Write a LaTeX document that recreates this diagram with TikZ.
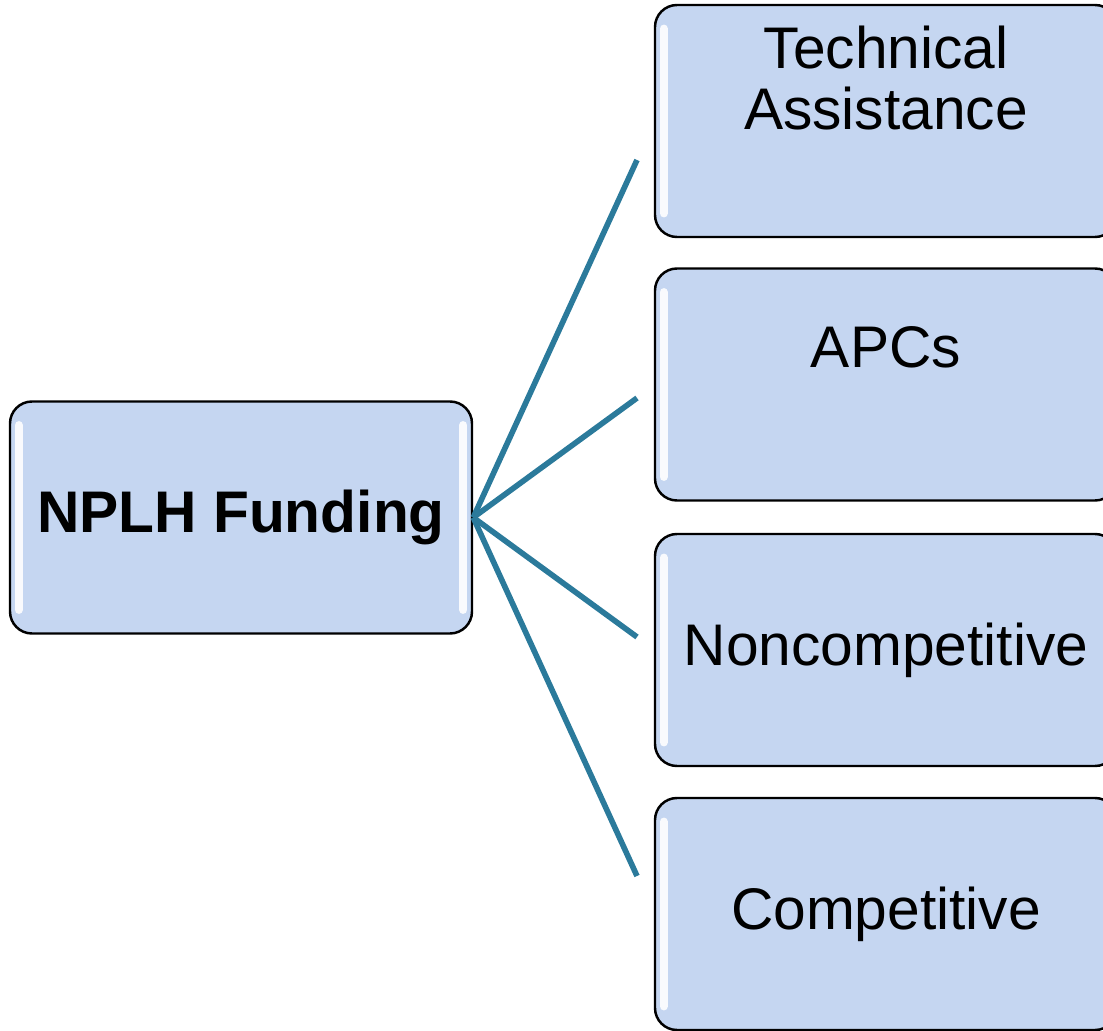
\documentclass[tikz,border=0pt]{standalone}
\usepackage{fontspec}
\setmainfont{Liberation Sans}
\usetikzlibrary{positioning}
\definecolor{boxfill}{HTML}{C5D6F1}
\definecolor{spoke}{HTML}{2B7A9B}
\begin{document}
\begin{tikzpicture}[
        fund/.style={draw=black, line width=0.7pt, fill=boxfill, rounded corners=0.22cm,
            minimum width=4.62cm, minimum height=2.32cm, inner sep=0pt,
            font=\fontsize{16.7}{17.5}\selectfont, align=center},
        fundtext/.style={font=\fontsize{16.7}{17.5}\selectfont, align=center, inner sep=0pt},
        shine/.style={white, line width=2.4pt, line cap=round, opacity=0.9},
        spokeline/.style={spoke, line width=1.6pt}
    ]
        \useasboundingbox (0,0) rectangle (11.03,10.30);

        \node[fund] (main) at (2.41,5.125) {\raisebox{-0.06cm}{\bfseries NPLH Funding}};

        \node[fund] (ta) at (8.86,9.09) {};
        \node[fundtext] at (8.86,9.52) {Technical\\Assistance};

        \node[fund] (apc) at (8.86,6.455) {};
        \node[fundtext] at (8.86,6.83) {APCs};

        \node[fund] (nonc) at (8.86,3.80) {Noncompetitive};
        \node[fund] (comp) at (8.86,1.16) {Competitive};

        % glossy highlights
        \foreach \b in {main,ta,apc,nonc,comp} {
            \draw[shine] ([xshift=0.1cm,yshift=-0.25cm]\b.north west) -- ([xshift=0.1cm,yshift=0.25cm]\b.south west);
            \draw[shine] ([xshift=-0.1cm,yshift=-0.25cm]\b.north east) -- ([xshift=-0.1cm,yshift=0.25cm]\b.south east);
        }

        \coordinate (e1) at (6.37,8.70);
        \coordinate (e2) at (6.37,6.32);
        \coordinate (e3) at (6.37,3.93);
        \coordinate (e4) at (6.37,1.54);

        \foreach \e in {e1,e2,e3,e4}
            \draw[spokeline] (main.east) -- (\e);
    \end{tikzpicture}
\end{document}
